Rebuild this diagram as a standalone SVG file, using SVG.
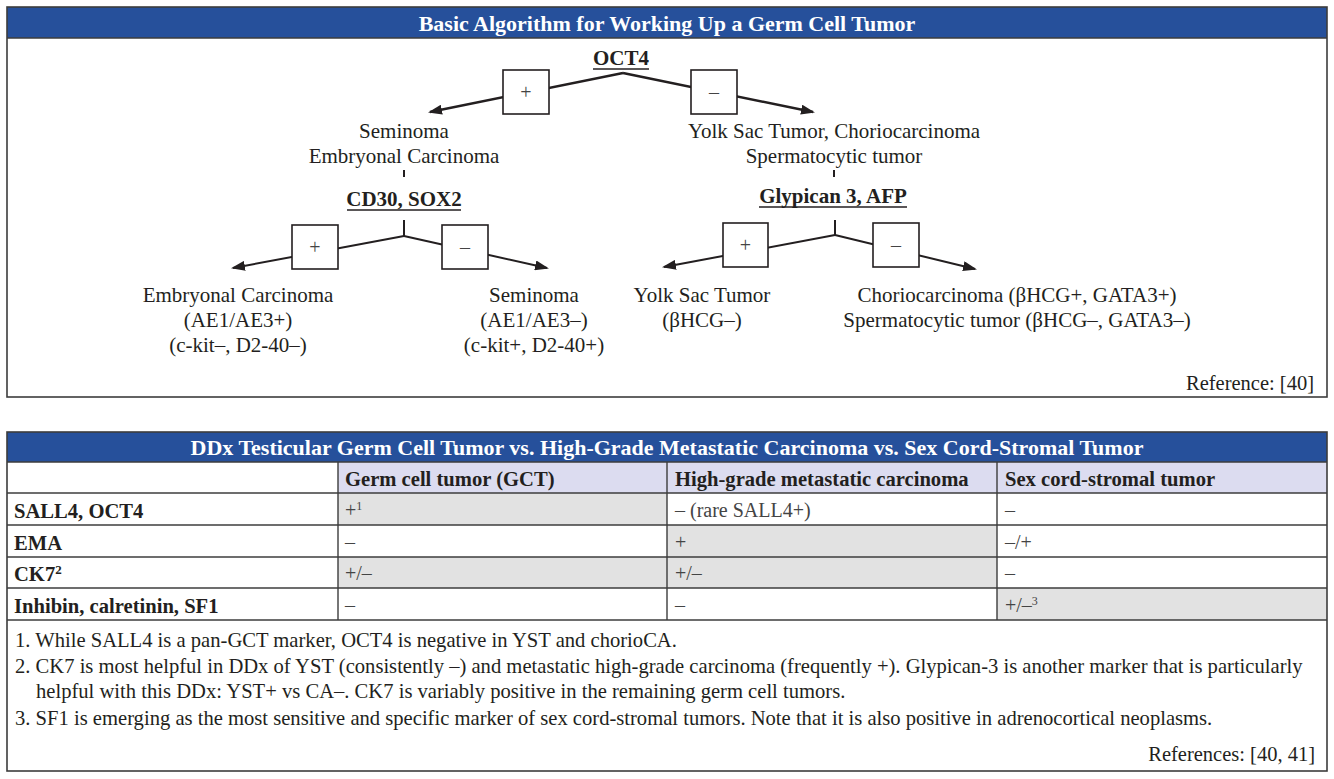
<svg xmlns="http://www.w3.org/2000/svg" width="1334" height="779" viewBox="0 0 1334 779">
<defs>
<style>
.t{font-family:"Liberation Serif","Times New Roman",serif;fill:#231f20}
.tx{font-size:21px;text-anchor:middle}
.hd{font-size:21px;font-weight:bold;text-anchor:middle}
.ttl{font-family:"Liberation Serif","Times New Roman",serif;font-size:22px;font-weight:bold;fill:#fff;text-anchor:middle}
.box{fill:#fff;stroke:#231f20;stroke-width:1.6}
.sg{font-size:20px;text-anchor:middle;fill:#444}
.ln{stroke:#231f20;stroke-width:2.4;fill:none}
.ln2{stroke:#231f20;stroke-width:2;fill:none}
.frame{fill:none;stroke:#3c3c3c;stroke-width:1.6}
.grid{stroke:#3c3c3c;stroke-width:1.4}
.rl{font-size:20.6px;font-weight:bold}
.cv{font-size:20px;fill:#444}
.fn{font-size:20.6px}
</style>
<marker id="ah" viewBox="0 0 14 10" refX="12" refY="5" markerWidth="14" markerHeight="10" markerUnits="userSpaceOnUse" orient="auto">
<path d="M0,0 L14,5 L0,10 z" fill="#231f20"/>
</marker>
</defs>
<rect width="1334" height="779" fill="#fff"/>

<!-- Top panel -->
<g id="panel-algorithm">
<rect x="7" y="7" width="1320" height="31" fill="#26509b"/>
<rect class="frame" x="7" y="7" width="1320" height="390"/>
<line class="grid" x1="7" y1="38" x2="1327" y2="38"/>
<text class="ttl" x="667" y="31">Basic Algorithm for Working Up a Germ Cell Tumor</text>
<text class="t" x="1314" y="390" font-size="20.5" text-anchor="end">Reference: [40]</text>
</g>

<g id="connectors">
<line class="ln" x1="623" y1="73" x2="430" y2="112" marker-end="url(#ah)"/>
<line class="ln" x1="623" y1="73" x2="813" y2="112" marker-end="url(#ah)"/>
<line class="ln2" x1="404" y1="170" x2="404" y2="177"/>
<line class="ln2" x1="834" y1="170" x2="834" y2="177"/>
<line class="ln2" x1="404" y1="220" x2="404" y2="236"/>
<line class="ln2" x1="404" y1="236" x2="233" y2="268" marker-end="url(#ah)"/>
<line class="ln2" x1="404" y1="236" x2="547" y2="268" marker-end="url(#ah)"/>
<line class="ln2" x1="835" y1="220" x2="835" y2="235"/>
<line class="ln2" x1="835" y1="235" x2="664" y2="267" marker-end="url(#ah)"/>
<line class="ln2" x1="835" y1="235" x2="975" y2="269" marker-end="url(#ah)"/>
</g>

<g id="node-oct4">
<text class="t hd" x="621" y="65">OCT4</text>
<line x1="593" y1="69" x2="649" y2="69" stroke="#231f20" stroke-width="1.6"/>
</g>
<g id="node-oct4-pos">
<rect class="box" x="503" y="70" width="46" height="44"/>
<text class="t sg" x="526" y="99">+</text>
</g>
<g id="node-oct4-neg">
<rect class="box" x="691" y="70" width="46" height="44"/>
<text class="t sg" x="714" y="99">–</text>
</g>
<g id="node-sem-ec">
<text class="t tx" x="404" y="138">Seminoma</text>
<text class="t tx" x="404" y="163">Embryonal Carcinoma</text>
</g>
<g id="node-yst-cc">
<text class="t tx" x="834" y="138">Yolk Sac Tumor, Choriocarcinoma</text>
<text class="t tx" x="834" y="163">Spermatocytic tumor</text>
</g>

<g id="node-cd30">
<text class="t hd" x="404" y="206">CD30, SOX2</text>
<line x1="347" y1="210" x2="461" y2="210" stroke="#231f20" stroke-width="1.6"/>
</g>
<g id="node-cd30-pos">
<rect class="box" x="292" y="225" width="46" height="44"/>
<text class="t sg" x="315" y="254">+</text>
</g>
<g id="node-cd30-neg">
<rect class="box" x="442" y="225" width="46" height="44"/>
<text class="t sg" x="465" y="254">–</text>
</g>
<g id="node-ec">
<text class="t tx" x="238" y="302">Embryonal Carcinoma</text>
<text class="t tx" x="238" y="327">(AE1/AE3+)</text>
<text class="t tx" x="238" y="352">(c-kit–, D2-40–)</text>
</g>
<g id="node-sem">
<text class="t tx" x="534" y="302">Seminoma</text>
<text class="t tx" x="534" y="327">(AE1/AE3–)</text>
<text class="t tx" x="534" y="352">(c-kit+, D2-40+)</text>
</g>

<g id="node-glypican">
<text class="t hd" x="833" y="203">Glypican 3, AFP</text>
<line x1="759" y1="207" x2="907" y2="207" stroke="#231f20" stroke-width="1.6"/>
</g>
<g id="node-gly-pos">
<rect class="box" x="723" y="223" width="45" height="44"/>
<text class="t sg" x="745.5" y="252">+</text>
</g>
<g id="node-gly-neg">
<rect class="box" x="873" y="223" width="46" height="44"/>
<text class="t sg" x="896" y="252">–</text>
</g>
<g id="node-yst">
<text class="t tx" x="702" y="302">Yolk Sac Tumor</text>
<text class="t tx" x="702" y="327">(βHCG–)</text>
</g>
<g id="node-cc-st">
<text class="t tx" x="1017" y="302">Choriocarcinoma (βHCG+, GATA3+)</text>
<text class="t tx" x="1017" y="327">Spermatocytic tumor (βHCG–, GATA3–)</text>
</g>

<!-- Table -->
<g id="table-ddx">
<rect x="7" y="432" width="1320" height="30" fill="#26509b"/>
<rect x="338" y="462" width="989" height="31" fill="#dcdcf0"/>
<rect x="338" y="493" width="329" height="32" fill="#e2e2e2"/>
<rect x="667" y="525" width="330" height="32" fill="#e2e2e2"/>
<rect x="338" y="557" width="659" height="31" fill="#e2e2e2"/>
<rect x="997" y="588" width="330" height="32" fill="#e2e2e2"/>
<text class="ttl" x="667" y="455">DDx Testicular Germ Cell Tumor vs. High-Grade Metastatic Carcinoma vs. Sex Cord-Stromal Tumor</text>
<g>
<line class="grid" x1="7" y1="462" x2="1327" y2="462"/>
<line class="grid" x1="7" y1="493" x2="1327" y2="493"/>
<line class="grid" x1="7" y1="525" x2="1327" y2="525"/>
<line class="grid" x1="7" y1="557" x2="1327" y2="557"/>
<line class="grid" x1="7" y1="588" x2="1327" y2="588"/>
<line class="grid" x1="7" y1="620" x2="1327" y2="620"/>
<line class="grid" x1="338" y1="462" x2="338" y2="620"/>
<line class="grid" x1="667" y1="462" x2="667" y2="620"/>
<line class="grid" x1="997" y1="462" x2="997" y2="620"/>
</g>
<rect class="frame" x="7" y="432" width="1320" height="339"/>
<text class="t rl" x="345" y="486">Germ cell tumor (GCT)</text>
<text class="t rl" x="675" y="486">High-grade metastatic carcinoma</text>
<text class="t rl" x="1005" y="486">Sex cord-stromal tumor</text>
<text class="t rl" x="14" y="518">SALL4, OCT4</text>
<text class="t rl" x="14" y="550">EMA</text>
<text class="t rl" x="14" y="581">CK7<tspan font-size="13" dy="-7">2</tspan></text>
<text class="t rl" x="14" y="613">Inhibin, calretinin, SF1</text>
<text class="t cv" x="345" y="517">+<tspan font-size="12" dy="-7">1</tspan></text>
<text class="t cv" x="675" y="517">– (rare SALL4+)</text>
<text class="t cv" x="1005" y="517">–</text>
<text class="t cv" x="345" y="549">–</text>
<text class="t cv" x="675" y="549">+</text>
<text class="t cv" x="1005" y="549">–/+</text>
<text class="t cv" x="345" y="580">+/–</text>
<text class="t cv" x="675" y="580">+/–</text>
<text class="t cv" x="1005" y="580">–</text>
<text class="t cv" x="345" y="612">–</text>
<text class="t cv" x="675" y="612">–</text>
<text class="t cv" x="1005" y="612">+/–<tspan font-size="12" dy="-7">3</tspan></text>
<text class="t fn" x="15" y="647">1. While SALL4 is a pan-GCT marker, OCT4 is negative in YST and chorioCA.</text>
<text class="t fn" x="15" y="673">2. CK7 is most helpful in DDx of YST (consistently –) and metastatic high-grade carcinoma (frequently +). Glypican-3 is another marker that is particularly</text>
<text class="t fn" x="36" y="698">helpful with this DDx: YST+ vs CA–. CK7 is variably positive in the remaining germ cell tumors.</text>
<text class="t fn" x="15" y="725">3. SF1 is emerging as the most sensitive and specific marker of sex cord-stromal tumors. Note that it is also positive in adrenocortical neoplasms.</text>
<text class="t" x="1315" y="761" font-size="20.5" text-anchor="end">References: [40, 41]</text>
</g>
</svg>
